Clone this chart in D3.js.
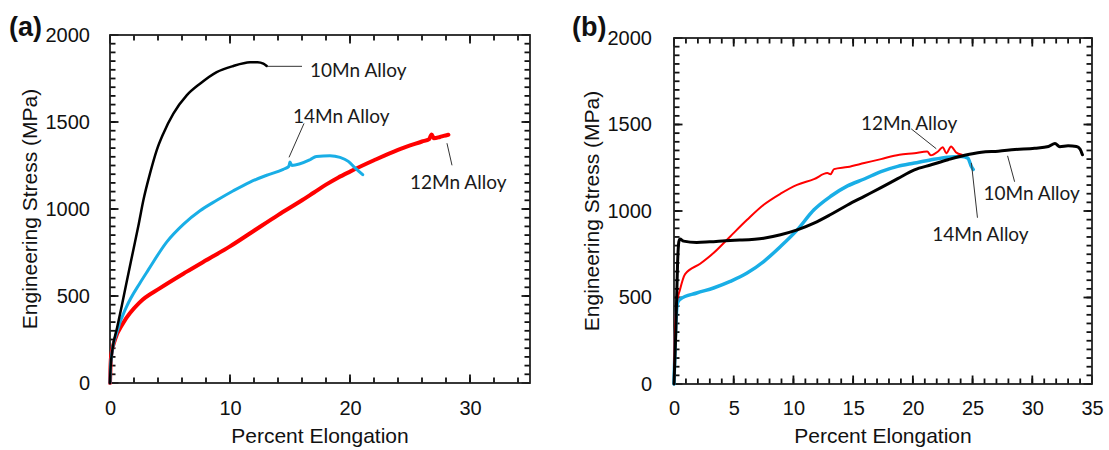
<!DOCTYPE html>
<html>
<head>
<meta charset="utf-8">
<script src="https://cdn.jsdelivr.net/npm/d3@7/dist/d3.min.js"></script>
<style>
  body { margin: 0; background: #fff; }
  .tick text { font-family: "Liberation Sans", Arial, sans-serif; font-size: 20px; fill: #111; }
</style>
</head>
<body>
<script>
// tick labels
var ticksY = [0, 500, 1000, 1500, 2000];
var ticksXA = [0, 10, 20, 30];
var ticksXB = [0, 5, 10, 15, 20, 25, 30, 35];

// panel (a): [percent elongation, engineering stress MPa]
var a10Mn = [[0,0],[0.05,90],[0.2,190],[0.6,320],[1.0,450],[1.4,585],[1.9,750],[2.4,915],[2.78,1050],[3.33,1203],
    [3.89,1337],[4.44,1433],[5.28,1548],[6.39,1653],[7.5,1720],[8.89,1787],[10.28,1822],[11.67,1843],
    [12.3,1844],[12.78,1836],[13.06,1822]];
var a12Mn = [[0,0],[0.04,90],[0.1,160],[0.42,250],[1.1,345],[2.5,465],[4.17,545],[6.4,640],[8,705],[10,785],
    [12,875],[14,965],[16,1050],[17,1095],[18,1140],[19,1180],[20,1215],[22,1280],[24,1340],[26,1388],
    [26.6,1402],[26.8,1428],[27.0,1406],[27.5,1414],[27.8,1420],[28.2,1427]];
var a14Mn = [[0,0],[0.04,90],[0.14,160],[0.56,290],[1.39,440],[2.5,575],[3.19,650],[4.72,810],[6.11,912],[7.5,990],
    [8.9,1050],[10.28,1105],[11.67,1155],[13.06,1194],[14.44,1228],[14.9,1245],[15.0,1270],[15.15,1250],
    [16.67,1283],[17.2,1302],[18.33,1306],[19.17,1297],[19.86,1274],[20.42,1236],[21.06,1197]];

// panel (b)
var b10Mn = [[0,0],[0.15,300],[0.3,700],[0.4,820],[0.5,838],[0.8,826],[1.9,818],[3.0,822],[4.71,830],[5.5,832],
    [7.51,843],[8.92,863],[10.32,891],[11.72,930],[13.12,980],[14.53,1035],[15.93,1085],[17.33,1135],
    [18.73,1187],[20.13,1238],[21.54,1267],[22.94,1296],[24.34,1322],[25.74,1340],[27.15,1346],[28.55,1355],
    [30.2,1363],[31.36,1373],[31.9,1390],[32.3,1372],[33.0,1377],[33.7,1373],[34.0,1358],[34.2,1325]];
var b12Mn = [[0,0],[0.05,250],[0.2,450],[0.5,545],[0.93,635],[2.19,695],[3.31,757],[4.71,853],[6.12,949],
    [7.51,1036],[8.92,1100],[10.3,1151],[11.72,1184],[12.84,1219],[13.1,1212],[13.4,1242],[14.53,1254],
    [15.93,1277],[17.33,1300],[18.87,1325],[20.13,1334],[21.2,1344],[21.5,1322],[22.1,1344],[22.5,1369],
    [22.8,1334],[23.2,1373],[23.6,1340],[24.1,1325]];
var b14Mn = [[0,0],[0.1,250],[0.3,470],[0.5,490],[1.9,526],[3.31,555],[4.71,593],[6.12,641],[7.51,708],
    [8.92,795],[10.32,891],[11.72,1007],[13.12,1085],[14.53,1145],[15.93,1185],[17.33,1228],[18.73,1258],
    [20.13,1277],[21.54,1296],[22.94,1311],[24.06,1315],[24.6,1306],[24.9,1257],[25.05,1240]];

var red = "#ff0000", blue = "#19aee6", black = "#000";

var svg = d3.select("body").append("svg")
    .attr("width", 1109)
    .attr("height", 450)
    .style("background", "#fff");

function drawPanel(p) {
    var x = d3.scaleLinear().domain([0, 35]).range([p.left, p.right]);
    var y = d3.scaleLinear().domain([0, 2000]).range([p.bottom, p.top]);
    var g = svg.append("g");
    var fmt = d3.format("d");
    var minorX = d3.range(0, 35.01, p.minorX), minorY = d3.range(0, 2000.1, 50);

    // tick labels from the axes
    g.append("g").attr("transform", "translate(0," + p.bottom + ")")
        .call(d3.axisBottom(x).tickValues(p.ticksX).tickSize(0).tickPadding(p.padX).tickFormat(fmt))
        .select(".domain").remove();
    g.append("g").attr("transform", "translate(" + p.left + ",0)")
        .call(d3.axisLeft(y).tickValues(ticksY).tickSize(0).tickPadding(p.padY).tickFormat(fmt))
        .select(".domain").remove();

    // tick marks pointing inward on all four sides
    var tk = g.append("g").attr("stroke", "#111").attr("stroke-width", 1.8);
    function xTicks(vals, len) {
        tk.selectAll(null).data(vals).enter().append("line")
            .attr("x1", function(d) { return x(d); }).attr("x2", function(d) { return x(d); })
            .attr("y1", p.bottom).attr("y2", p.bottom - len);
        tk.selectAll(null).data(vals).enter().append("line")
            .attr("x1", function(d) { return x(d); }).attr("x2", function(d) { return x(d); })
            .attr("y1", p.top).attr("y2", p.top + len);
    }
    function yTicks(vals, len) {
        tk.selectAll(null).data(vals).enter().append("line")
            .attr("y1", function(d) { return y(d); }).attr("y2", function(d) { return y(d); })
            .attr("x1", p.left).attr("x2", p.left + len);
        tk.selectAll(null).data(vals).enter().append("line")
            .attr("y1", function(d) { return y(d); }).attr("y2", function(d) { return y(d); })
            .attr("x1", p.right).attr("x2", p.right - len);
    }
    xTicks(minorX, 5.5);
    xTicks(p.ticksX, 8.5);
    yTicks(minorY, 5.5);
    yTicks(ticksY, 8.5);

    // frame
    g.append("rect")
        .attr("x", p.left).attr("y", p.top)
        .attr("width", p.right - p.left).attr("height", p.bottom - p.top)
        .attr("fill", "none").attr("stroke", "#222").attr("stroke-width", 1.8);

    var line = d3.line()
        .curve(d3.curveMonotoneX)
        .x(function(d) { return x(d[0]); })
        .y(function(d) { return y(d[1]); });

    p.series.forEach(function(s) {
        g.append("path")
            .datum(s.data)
            .attr("d", line)
            .attr("fill", "none")
            .attr("stroke", s.color)
            .attr("stroke-width", s.width)
            .attr("stroke-linejoin", "round")
            .attr("stroke-linecap", "round");
    });

    // labels with leader lines
    p.notes.forEach(function(n) {
        g.append("line")
            .attr("x1", x(n.from[0])).attr("y1", y(n.from[1]))
            .attr("x2", x(n.to[0])).attr("y2", y(n.to[1]))
            .attr("stroke", "#333").attr("stroke-width", 1);
        g.append("text")
            .attr("x", x(n.at[0])).attr("y", y(n.at[1]))
            .attr("font-family", "Lato, 'Open Sans', sans-serif")
            .attr("font-size", "19px")
            .attr("fill", "#1a1a1a")
            .text(n.text);
    });

    // axis titles
    g.append("text")
        .attr("x", (p.left + p.right) / 2)
        .attr("y", 443)
        .attr("text-anchor", "middle")
        .attr("font-family", "'Liberation Sans', Arial, sans-serif")
        .attr("font-size", "21px")
        .attr("fill", "#111")
        .text("Percent Elongation");

    g.append("text")
        .attr("transform", "translate(" + p.titleY + "," + ((p.top + p.bottom) / 2) + ") rotate(-90)")
        .attr("text-anchor", "middle")
        .attr("font-family", "'Liberation Sans', Arial, sans-serif")
        .attr("font-size", "21px")
        .attr("fill", "#111")
        .text("Engineering Stress (MPa)");

    // panel letter
    g.append("text")
        .attr("x", p.tagX).attr("y", 36)
        .attr("font-family", "'Liberation Sans', Arial, sans-serif")
        .attr("font-size", "27px")
        .attr("font-weight", "700")
        .attr("fill", "#111")
        .text(p.tag);
}

drawPanel({
    left: 110, right: 530, top: 35, bottom: 383,
    ticksX: ticksXA, minorX: 2, padX: 18, padY: 20, titleY: 37, tagX: 9, tag: "(a)",
    series: [
        {data: a12Mn, color: red, width: 4},
        {data: a14Mn, color: blue, width: 3},
        {data: a10Mn, color: black, width: 2.5}
    ],
    notes: [
        {text: "10Mn Alloy", at: [16.67, 1757], from: [13.1, 1820], to: [16.0, 1820]},
        {text: "14Mn Alloy", at: [15.25, 1497], from: [16.17, 1492], to: [14.92, 1297]},
        {text: "12Mn Alloy", at: [25.0, 1113], from: [28.08, 1378], to: [28.5, 1251]}
    ]
});

drawPanel({
    left: 674, right: 1092, top: 38, bottom: 384,
    ticksX: ticksXB, minorX: 1, padX: 17, padY: 22, titleY: 599, tagX: 572, tag: "(b)",
    series: [
        {data: b14Mn, color: blue, width: 3.5},
        {data: b12Mn, color: red, width: 2},
        {data: b10Mn, color: black, width: 3}
    ],
    notes: [
        {text: "12Mn Alloy", at: [15.65, 1469], from: [19.86, 1475], to: [21.96, 1360]},
        {text: "10Mn Alloy", at: [25.91, 1065], from: [27.93, 1319], to: [28.52, 1169]},
        {text: "14Mn Alloy", at: [21.62, 828], from: [24.9, 1278], to: [25.41, 961]}
    ]
});
</script>
</body>
</html>
